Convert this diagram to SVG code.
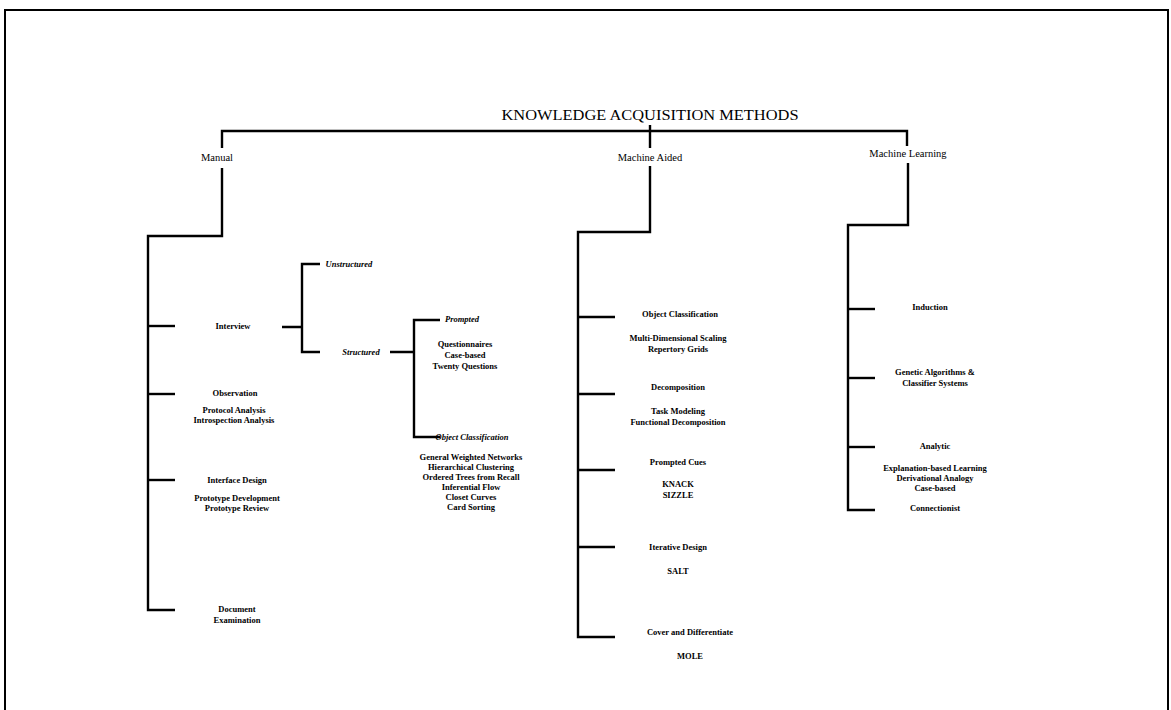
<svg xmlns="http://www.w3.org/2000/svg" width="1171" height="710" viewBox="0 0 1171 710">
<style>
text{font-family:"Liberation Serif","Times New Roman",serif;fill:#000;text-anchor:middle}
.t{font-size:14px}
.h{font-size:10.5px}
.b{font-size:8.5px;font-weight:bold}
.i{font-size:8.5px;font-weight:bold;font-style:italic}
.c path,.c line{stroke:#000;stroke-width:2.4;fill:none;stroke-linecap:butt}
</style>
<rect x="0" y="0" width="1171" height="710" fill="#fff"/>
<path d="M5,712 V10 H1168 V712" fill="none" stroke="#000" stroke-width="2"/>
<g class="c" id="connectors">
<path d="M650,125 V148 M650,166 V232 H578 V637 H615"/>
<path d="M222,148 V131 H907 V146"/>
<path d="M222,168 V236 H148 V610 H175"/>
<line x1="148" y1="326" x2="175" y2="326"/>
<line x1="148" y1="394" x2="175" y2="394"/>
<line x1="148" y1="480" x2="175" y2="480"/>
<path d="M282,327 H302 M320,264 H302 V352 H320"/>
<path d="M390,352 H414 M440,320 H414 V437 H440"/>
<line x1="578" y1="317" x2="615" y2="317"/>
<line x1="578" y1="394" x2="615" y2="394"/>
<line x1="578" y1="470" x2="615" y2="470"/>
<line x1="578" y1="547" x2="615" y2="547"/>
<path d="M908,163 V225 H848 V510 H875"/>
<line x1="848" y1="309" x2="875" y2="309"/>
<line x1="848" y1="378" x2="875" y2="378"/>
<line x1="848" y1="447" x2="875" y2="447"/>
</g>
<g id="title"><text class="t" x="650" y="120" textLength="297" lengthAdjust="spacingAndGlyphs">KNOWLEDGE ACQUISITION METHODS</text></g>
<g id="manual"><text class="h" x="217" y="161">Manual</text></g>
<g id="machine-aided"><text class="h" x="650" y="161">Machine Aided</text></g>
<g id="machine-learning"><text class="h" x="908" y="157">Machine Learning</text></g>
<g id="interview"><text class="b" x="233" y="329">Interview</text></g>
<g id="unstructured"><text class="i" x="349" y="267">Unstructured</text></g>
<g id="structured"><text class="i" x="361" y="355">Structured</text></g>
<g id="prompted"><text class="i" x="462" y="322">Prompted</text>
<text class="b" x="465" y="347">Questionnaires</text>
<text class="b" x="465" y="358">Case-based</text>
<text class="b" x="465" y="369">Twenty Questions</text></g>
<g id="object-classification-m"><text class="i" x="472" y="440">Object Classification</text>
<text class="b" x="471" y="460">General Weighted Networks</text>
<text class="b" x="471" y="470">Hierarchical Clustering</text>
<text class="b" x="471" y="480">Ordered Trees from Recall</text>
<text class="b" x="471" y="490">Inferential Flow</text>
<text class="b" x="471" y="500">Closet Curves</text>
<text class="b" x="471" y="510">Card Sorting</text></g>
<g id="observation"><text class="b" x="235" y="396">Observation</text>
<text class="b" x="234" y="413">Protocol Analysis</text>
<text class="b" x="234" y="423">Introspection Analysis</text></g>
<g id="interface-design"><text class="b" x="237" y="483">Interface Design</text>
<text class="b" x="237" y="501">Prototype Development</text>
<text class="b" x="237" y="511">Prototype Review</text></g>
<g id="document-examination"><text class="b" x="237" y="612">Document</text>
<text class="b" x="237" y="623">Examination</text></g>
<g id="object-classification-a"><text class="b" x="680" y="317">Object Classification</text>
<text class="b" x="678" y="341">Multi-Dimensional Scaling</text>
<text class="b" x="678" y="352">Repertory Grids</text></g>
<g id="decomposition"><text class="b" x="678" y="390">Decomposition</text>
<text class="b" x="678" y="414">Task Modeling</text>
<text class="b" x="678" y="425">Functional Decomposition</text></g>
<g id="prompted-cues"><text class="b" x="678" y="465">Prompted Cues</text>
<text class="b" x="678" y="487">KNACK</text>
<text class="b" x="678" y="498">SIZZLE</text></g>
<g id="iterative-design"><text class="b" x="678" y="550">Iterative Design</text>
<text class="b" x="678" y="574">SALT</text></g>
<g id="cover-differentiate"><text class="b" x="690" y="635">Cover and Differentiate</text>
<text class="b" x="690" y="659">MOLE</text></g>
<g id="induction"><text class="b" x="930" y="310">Induction</text></g>
<g id="genetic"><text class="b" x="935" y="375">Genetic Algorithms &amp;</text>
<text class="b" x="935" y="386">Classifier Systems</text></g>
<g id="analytic"><text class="b" x="935" y="449">Analytic</text>
<text class="b" x="935" y="471">Explanation-based Learning</text>
<text class="b" x="935" y="481">Derivational Analogy</text>
<text class="b" x="935" y="491">Case-based</text></g>
<g id="connectionist"><text class="b" x="935" y="511">Connectionist</text></g>
</svg>
